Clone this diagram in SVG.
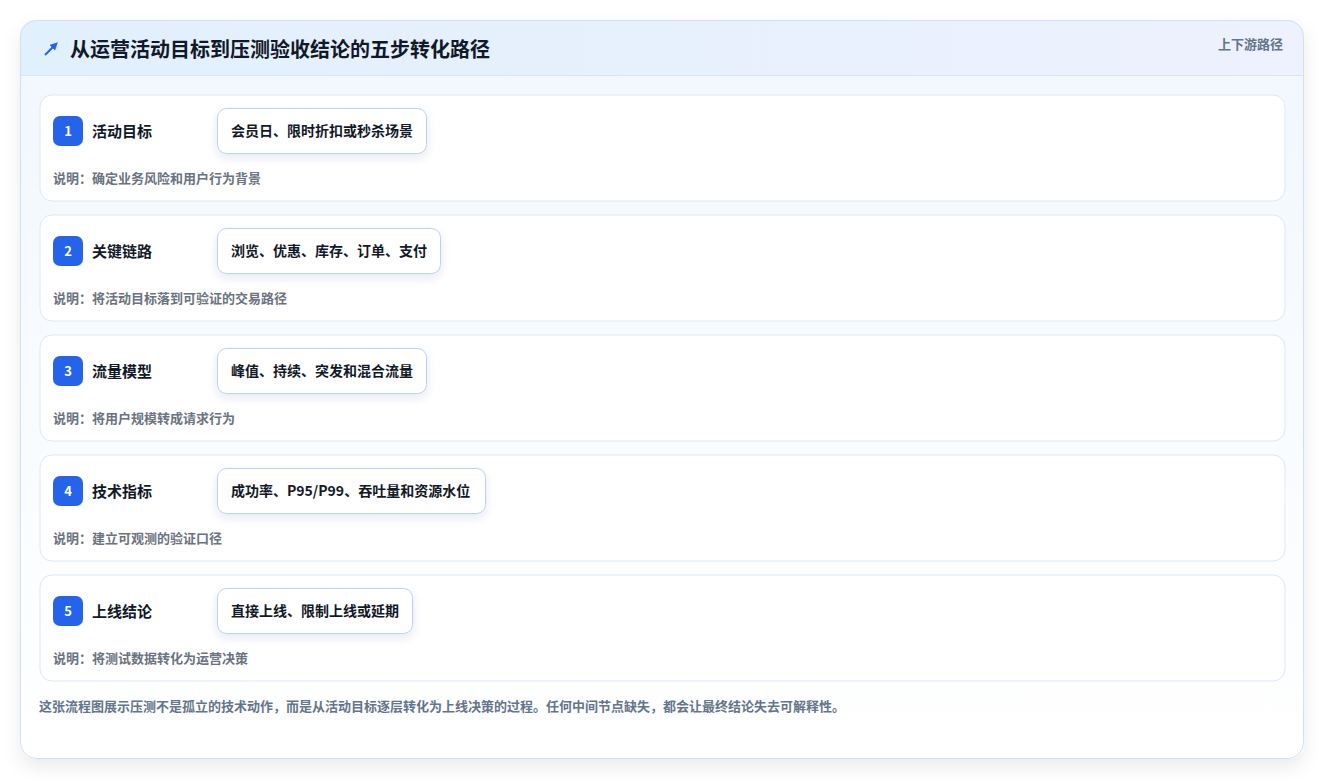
<svg xmlns="http://www.w3.org/2000/svg" width="1325" height="780" viewBox="0 0 1325 780">
<defs>
<linearGradient id="hdr" x1="0" y1="0" x2="1" y2="0"><stop offset="0" stop-color="#e1f0fd"/><stop offset="1" stop-color="#eef1fe"/></linearGradient>
<linearGradient id="body" x1="0" y1="0" x2="0" y2="1"><stop offset="0" stop-color="#f1f7fe"/><stop offset="1" stop-color="#ffffff"/></linearGradient>
<filter id="sh" x="-10%" y="-10%" width="120%" height="125%"><feDropShadow dx="0" dy="8" stdDeviation="9" flood-color="#0f172a" flood-opacity="0.08"/></filter>
<filter id="csh" x="-20%" y="-30%" width="140%" height="180%"><feDropShadow dx="0" dy="4" stdDeviation="5" flood-color="#1e3a8a" flood-opacity="0.10"/></filter>
<clipPath id="cc"><rect x="20" y="20" width="1284" height="739" rx="16"/></clipPath>
<marker id="ah" viewBox="0 0 10 10" refX="5" refY="5" markerWidth="4" markerHeight="4" orient="auto"><path d="M0,0L10,5L0,10z" fill="#2563eb"/></marker>
</defs>
<style>
text{font-family:"Noto Sans CJK SC","Noto Sans",sans-serif}
.row{fill:#ffffff;stroke:#dce8f5;stroke-width:1}
.badge{fill:#2563eb}
.num{fill:#fff;font-size:13px;font-weight:700;text-anchor:middle}
.lab{fill:#111827;font-size:15px;font-weight:700}
.chip{fill:#fff;stroke:#bcd2ea;stroke-width:1}
.ct{fill:#111827;font-size:14px;font-weight:700}
.desc{fill:#6b7280;font-size:13px;font-weight:700}
</style>
<rect width="1325" height="780" fill="#ffffff"/>
<g id="card">
<rect x="20" y="20" width="1284" height="739" rx="16" fill="url(#body)" filter="url(#sh)"/>
<g clip-path="url(#cc)">
<rect x="20" y="20" width="1284" height="55" fill="url(#hdr)"/>
<line x1="20" y1="75.5" x2="1304" y2="75.5" stroke="#d6e6f6"/>
</g>
<rect x="20.5" y="20.5" width="1283" height="738" rx="16" fill="none" stroke="#cfe2f3"/>
</g>
<g id="title">
<line x1="45" y1="55" x2="55" y2="45" stroke="#2563eb" stroke-width="2" marker-end="url(#ah)"/>
<text x="70" y="57" font-size="20" font-weight="700" fill="#111827">从运营活动目标到压测验收结论的五步转化路径</text>
<text x="1283" y="49" font-size="13" font-weight="700" fill="#64748b" text-anchor="end">上下游路径</text>
</g>
<g id="step1">
<rect class="row" x="40" y="95" width="1245" height="106" rx="12"/>
<rect class="badge" x="53" y="116" width="30" height="30" rx="7"/>
<text class="num" x="68" y="135.5">1</text>
<text class="lab" x="92" y="136.5">活动目标</text>
<rect class="chip" x="217.5" y="108.5" width="209" height="45" rx="9" filter="url(#csh)"/>
<text class="ct" x="231" y="136">会员日、限时折扣或秒杀场景</text>
<text class="desc" x="53" y="183">说明：确定业务风险和用户行为背景</text>
</g>
<g id="step2">
<rect class="row" x="40" y="215" width="1245" height="106" rx="12"/>
<rect class="badge" x="53" y="236" width="30" height="30" rx="7"/>
<text class="num" x="68" y="255.5">2</text>
<text class="lab" x="92" y="256.5">关键链路</text>
<rect class="chip" x="217.5" y="228.5" width="223" height="45" rx="9" filter="url(#csh)"/>
<text class="ct" x="231" y="256">浏览、优惠、库存、订单、支付</text>
<text class="desc" x="53" y="303">说明：将活动目标落到可验证的交易路径</text>
</g>
<g id="step3">
<rect class="row" x="40" y="335" width="1245" height="106" rx="12"/>
<rect class="badge" x="53" y="356" width="30" height="30" rx="7"/>
<text class="num" x="68" y="375.5">3</text>
<text class="lab" x="92" y="376.5">流量模型</text>
<rect class="chip" x="217.5" y="348.5" width="209" height="45" rx="9" filter="url(#csh)"/>
<text class="ct" x="231" y="376">峰值、持续、突发和混合流量</text>
<text class="desc" x="53" y="423">说明：将用户规模转成请求行为</text>
</g>
<g id="step4">
<rect class="row" x="40" y="455" width="1245" height="106" rx="12"/>
<rect class="badge" x="53" y="476" width="30" height="30" rx="7"/>
<text class="num" x="68" y="495.5">4</text>
<text class="lab" x="92" y="496.5">技术指标</text>
<rect class="chip" x="217.5" y="468.5" width="268" height="45" rx="9" filter="url(#csh)"/>
<text class="ct" x="231" y="496">成功率、P95/P99、吞吐量和资源水位</text>
<text class="desc" x="53" y="543">说明：建立可观测的验证口径</text>
</g>
<g id="step5">
<rect class="row" x="40" y="575" width="1245" height="106" rx="12"/>
<rect class="badge" x="53" y="596" width="30" height="30" rx="7"/>
<text class="num" x="68" y="615.5">5</text>
<text class="lab" x="92" y="616.5">上线结论</text>
<rect class="chip" x="217.5" y="588.5" width="195" height="45" rx="9" filter="url(#csh)"/>
<text class="ct" x="231" y="616">直接上线、限制上线或延期</text>
<text class="desc" x="53" y="663">说明：将测试数据转化为运营决策</text>
</g>
<g id="connectors"></g>
<text x="39" y="711" font-size="13" font-weight="700" fill="#64748b">这张流程图展示压测不是孤立的技术动作，而是从活动目标逐层转化为上线决策的过程。任何中间节点缺失，都会让最终结论失去可解释性。</text>
</svg>
